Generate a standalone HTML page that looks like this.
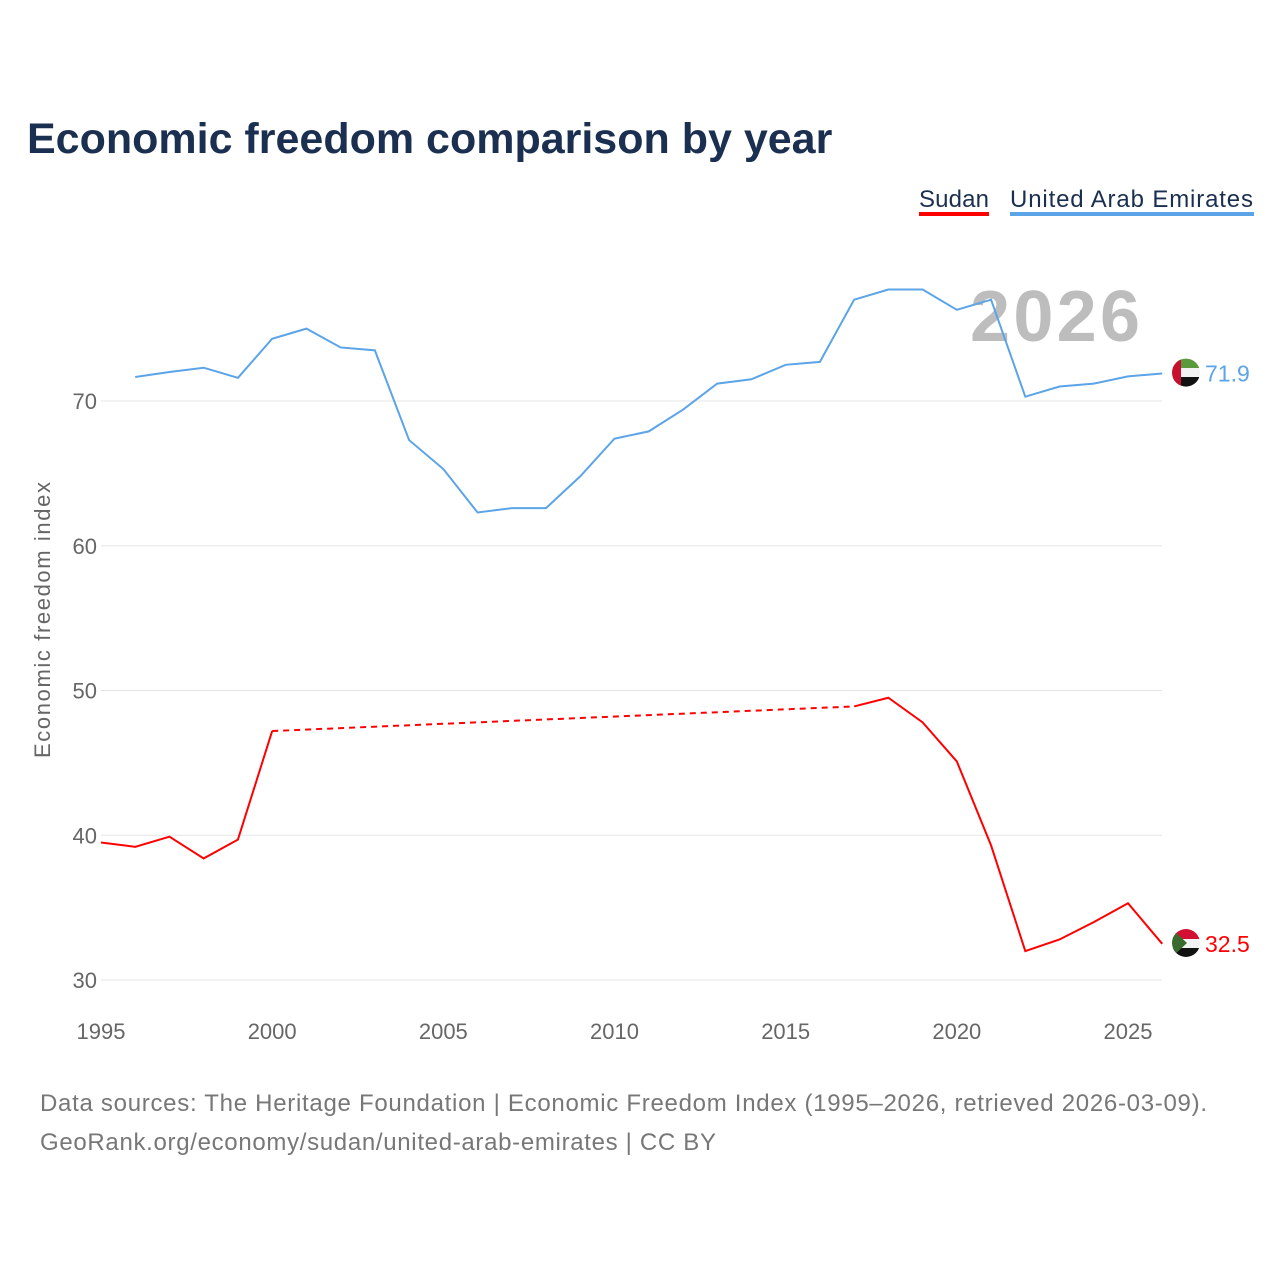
<!DOCTYPE html>
<html><head><meta charset="utf-8">
<style>
body{margin:0;background:#fff;font-family:"Liberation Sans",sans-serif;}
svg text{font-family:"Liberation Sans",sans-serif;}
</style></head>
<body>
<svg id="chart" width="1280" height="1280" xmlns="http://www.w3.org/2000/svg">
<defs>
<clipPath id="cu"><circle cx="1186" cy="372.6" r="14"/></clipPath>
<clipPath id="cs"><circle cx="1186" cy="943" r="14"/></clipPath>
</defs>
<text x="27" y="153" font-size="43" font-weight="bold" fill="#1b2f50">Economic freedom comparison by year</text>
<g>
<text x="919" y="207" font-size="24" fill="#1b2f50" textLength="70">Sudan</text>
<rect x="919" y="212" width="70" height="4" fill="#ff0000"/>
<text x="1010" y="207" font-size="24" fill="#1b2f50" textLength="243">United Arab Emirates</text>
<rect x="1010" y="212" width="244" height="4" fill="#5ba4e8"/>
</g>
<text x="1140" y="341" font-size="72" font-weight="bold" fill="#bdbdbd" text-anchor="end" textLength="170">2026</text>
<text transform="translate(50,620) rotate(-90)" font-size="22" fill="#666" text-anchor="middle" textLength="276">Economic freedom index</text>
<g id="grid"></g>
<g id="xticks"></g>
<g id="series"></g>
<g clip-path="url(#cu)">
<rect x="1172" y="358" width="28" height="10" fill="#5a9a3c"/><rect x="1172" y="368" width="28" height="9" fill="#f2f2f2"/><rect x="1172" y="377" width="28" height="10" fill="#111"/><rect x="1172" y="358" width="9" height="29" fill="#c8102e"/>
</g>
<g clip-path="url(#cs)">
<rect x="1172" y="929" width="28" height="10" fill="#d21034"/><rect x="1172" y="939" width="28" height="9" fill="#f2f2f2"/><rect x="1172" y="948" width="28" height="10" fill="#111"/><polygon points="1172,929 1187,943 1172,957" fill="#3a6b2e"/>
</g>
<text x="40" y="1111" font-size="24" fill="#777" textLength="1167">Data sources: The Heritage Foundation | Economic Freedom Index (1995–2026, retrieved 2026-03-09).</text>
<text x="40" y="1150" font-size="24" fill="#777" textLength="676">GeoRank.org/economy/sudan/united-arab-emirates | CC BY</text>
</svg>
<script>
const years=[1995,1996,1997,1998,1999,2000,2001,2002,2003,2004,2005,2006,2007,2008,2009,2010,2011,2012,2013,2014,2015,2016,2017,2018,2019,2020,2021,2022,2023,2024,2025,2026];
const uae=[null,71.66,72.0,72.3,71.6,74.3,75.0,73.7,73.5,67.3,65.3,62.3,62.6,62.6,64.8,67.4,67.9,69.4,71.2,71.5,72.5,72.7,77.0,77.7,77.7,76.3,77.0,70.3,71.0,71.2,71.7,71.9];
const sudan=[39.5,39.2,39.9,38.4,39.7,47.2,null,null,null,null,null,null,null,null,null,null,null,null,null,null,null,null,48.9,49.5,47.8,45.1,39.3,32.0,32.8,34.0,35.3,32.5];
const yTicks=[30,40,50,60,70];
const xTicks=[1995,2000,2005,2010,2015,2020,2025];
const NS="http://www.w3.org/2000/svg";
const X=y=>101+(y-1995)*(1027/30);
const Y=v=>980-(v-30)*14.475;
function mk(t,a,p){const e=document.createElementNS(NS,t);for(const k in a)e.setAttribute(k,a[k]);p.appendChild(e);return e;}
const grid=document.getElementById('grid');
yTicks.forEach(v=>{
 const l=mk('line',{x1:101,x2:1162,y1:Y(v),y2:Y(v),stroke:'#e6e6e6','stroke-width':1},grid);
 
 
 const t=mk('text',{x:97,y:Y(v)+8,'font-size':22,fill:'#666','text-anchor':'end'},grid);
 t.textContent=v;
 
 
});
const xg=document.getElementById('xticks');
xTicks.forEach(v=>{
 const t=mk('text',{x:X(v),y:1039,'font-size':22,fill:'#666','text-anchor':'middle'},xg);
 t.textContent=v;
 
 
});
const sg=document.getElementById('series');
function draw(vals,color,name){
 let segs=[],cur=[];
 vals.forEach((v,i)=>{if(v==null){if(cur.length)segs.push(cur);cur=[];}else cur.push([X(years[i]),Y(v)]);});
 if(cur.length)segs.push(cur);
 segs.forEach((s,k)=>{
  const p=mk('path',{d:'M'+s.map(q=>q.join(',')).join('L'),fill:'none',stroke:color,'stroke-width':2},sg);
  
  
  if(k<segs.length-1){const a=s[s.length-1],b=segs[k+1][0];
   const d=mk('line',{x1:a[0],y1:a[1],x2:b[0],y2:b[1],stroke:color,'stroke-width':2,'stroke-dasharray':'6,5'},sg);
   
   }
 });
 const last=vals[vals.length-1],ly=Y(last);
 const t=mk('text',{x:1205,y:ly+8,'font-size':23,fill:color},sg);
 t.textContent=last.toFixed(1);
 
 
}
draw(uae,'#5ba4e8','uae');
draw(sudan,'#ff0000','sudan');
</script>
</body></html>
